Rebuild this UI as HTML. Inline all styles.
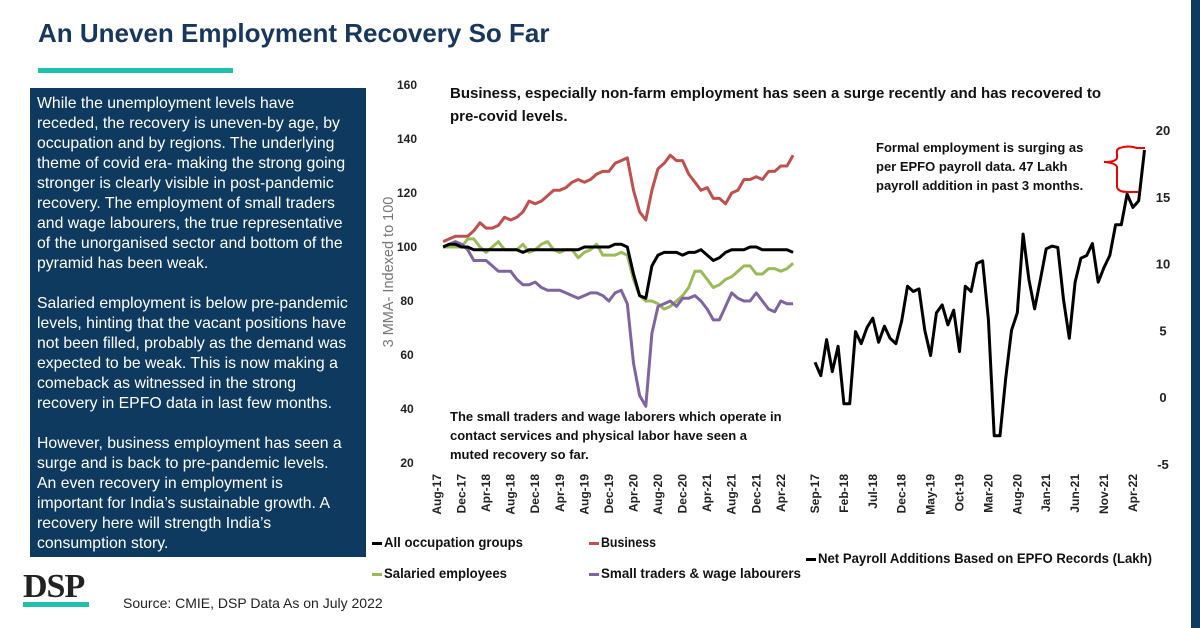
<!DOCTYPE html>
<html><head><meta charset="utf-8">
<style>
body{margin:0;background:#fff;}
#wrap{position:relative;width:1200px;height:628px;overflow:hidden;background:#fff;font-family:"Liberation Sans",sans-serif;}
#title{position:absolute;left:38px;top:18px;font-size:26px;font-weight:bold;color:#17375e;}
#panel{position:absolute;left:30px;top:88px;width:336px;height:469px;background:#0f3a5f;color:#fff;font-size:15.8px;line-height:20px;white-space:nowrap;overflow:hidden;}
#panel div{position:absolute;left:7px;}
svg text{font-family:"Liberation Sans",sans-serif;}
</style></head>
<body>
<div id="wrap">
<div id="title">An Uneven Employment Recovery So Far</div>
<div style="position:absolute;left:38px;top:68px;width:195px;height:5px;background:#1fbfae"></div>
<div id="panel">
<div style="top:6px">While the unemployment levels have<br>receded, the recovery is uneven-by age, by<br>occupation and by regions. The underlying<br>theme of covid era- making the strong going<br>stronger is clearly visible in post-pandemic<br>recovery. The employment of small traders<br>and wage labourers, the true representative<br>of the unorganised sector and bottom of the<br>pyramid has been weak.</div>
<div style="top:206px">Salaried employment is below pre-pandemic<br>levels, hinting that the vacant positions have<br>not been filled, probably as the demand was<br>expected to be weak. This is now making a<br>comeback as witnessed in the strong<br>recovery in EPFO data in last few months.</div>
<div style="top:346px">However, business employment has seen a<br>surge and is back to pre-pandemic levels.<br>An even recovery in employment is<br>important for India’s sustainable growth. A<br>recovery here will strength India’s<br>consumption story.</div>
</div>
<div style="position:absolute;left:23px;top:568px;font-family:'Liberation Serif',serif;font-weight:bold;font-size:34px;color:#222;letter-spacing:-1px">DSP</div>
<div style="position:absolute;left:23px;top:602px;width:66px;height:5px;background:#1fbfae"></div>
<div style="position:absolute;left:123px;top:595px;font-size:14px;color:#222">Source: CMIE, DSP Data As on July 2022</div>
<div style="position:absolute;left:1191px;top:0;width:9px;height:628px;background:#0f3a5f"></div>
<svg id="chart" width="1200" height="628" style="position:absolute;left:0;top:0"></svg>
</div>
<script>
const leftTicks=[20,40,60,80,100,120,140,160];
const leftXLabels=["Aug-17","Dec-17","Apr-18","Aug-18","Dec-18","Apr-19","Aug-19","Dec-19","Apr-20","Aug-20","Dec-20","Apr-21","Aug-21","Dec-21","Apr-22"];
const allOcc=[100,101,101,100,100,99,99,99,99,99,99,99,99,98,99,99,99,99,99,99,99,99,99,100,100,100,100,100,101,101,100,90,82,81,93,97,98,98,98,97,98,98,99,97,95,96,98,99,99,99,100,100,99,99,99,99,99,98];
const business=[102,103,104,104,104,106,109,107,107,108,111,110,111,113,117,116,117,119,121,121,122,124,125,124,125,127,128,128,131,132,133,121,113,110,121,129,131,134,132,132,127,124,121,122,118,118,116,120,121,125,125,126,125,128,128,130,130,134];
const salaried=[100,100,100,100,103,103,100,98,100,102,99,99,99,101,98,99,101,102,99,98,99,99,96,98,99,101,97,97,97,98,97,88,82,80,80,79,77,78,80,82,85,91,91,88,85,86,88,89,91,93,93,90,90,92,92,91,92,94];
const smallTraders=[100,101,102,101,99,95,95,95,93,91,91,91,88,86,86,87,85,84,84,84,83,82,81,82,83,83,82,80,83,84,79,57,45,41,68,78,79,80,78,81,81,82,80,77,73,73,78,83,81,80,80,83,80,77,76,80,79,79];
const rightTicks=[-5,0,5,10,15,20];
const rightXLabels=["Sep-17","Feb-18","Jul-18","Dec-18","May-19","Oct-19","Mar-20","Aug-20","Jan-21","Jun-21","Nov-21","Apr-22"];
const payroll=[2.6,1.6,4.3,1.9,3.8,-0.5,-0.5,4.9,4.0,5.2,5.9,4.1,5.3,4.4,4.0,5.7,8.3,7.9,8.1,5.0,3.1,6.3,6.9,5.4,6.5,3.4,8.3,7.9,10.0,10.2,5.8,-2.9,-2.9,1.4,5.0,6.3,12.2,8.8,6.6,8.8,11.1,11.3,11.2,7.3,4.4,8.6,10.4,10.6,11.5,8.6,9.7,10.6,12.9,12.9,15.2,14.2,14.7,18.5];

const svg=document.getElementById('chart');
const NS='http://www.w3.org/2000/svg';
function mk(tag,attrs,parent){const e=document.createElementNS(NS,tag);for(const k in attrs)e.setAttribute(k,attrs[k]);(parent||svg).appendChild(e);return e;}
function txt(s,attrs){const e=mk('text',attrs);e.textContent=s;return e;}
const ly=v=>247-(v-100)*2.7;
const lx=i=>437+i*6.14;
const rY=v=>397-v*13.35;
const rX=i=>815+i*5.78;

leftTicks.forEach(t=>{
  const e=txt(String(t),{x:407,y:ly(t)+4,'text-anchor':'middle','font-size':12,'font-weight':'bold',fill:'#222'});
  
  
});
leftXLabels.forEach((l,k)=>{
  const x=lx(k*4);
  const e=txt(l,{x:0,y:0,transform:`translate(${x+4},${474}) rotate(-90)`,'text-anchor':'end','font-size':12,'font-weight':'bold',fill:'#222'});
  
  
});
const yt=txt('3 MMA- Indexed to 100',{x:0,y:0,transform:'translate(393,272) rotate(-90)','text-anchor':'middle','font-size':14.5,fill:'#777'});



function line(arr,xf,yf,off,color,name){
  const d=arr.map((v,i)=>(i?'L':'M')+xf(i+off).toFixed(1)+','+yf(v).toFixed(1)).join(' ');
  const p=mk('path',{d,fill:'none',stroke:color,'stroke-width':3,'stroke-linejoin':'round'});
  
  
}
line(business,lx,ly,1,'#c0504d','business-line');
line(salaried,lx,ly,1,'#9bbb59','salaried-line');
line(smallTraders,lx,ly,1,'#8064a2','small-traders-line');
line(allOcc,lx,ly,1,'#000','all-occupation-line');

rightTicks.forEach(t=>{
  const e=txt(String(t),{x:1163,y:rY(t)+5,'text-anchor':'middle','font-size':13,'font-weight':'bold',fill:'#222'});
  
  
});
rightXLabels.forEach((l,k)=>{
  const x=rX(k*5);
  const e=txt(l,{x:0,y:0,transform:`translate(${x+4},${474}) rotate(-90)`,'text-anchor':'end','font-size':12,'font-weight':'bold',fill:'#222'});
  
  
});
line(payroll,rX,rY,0,'#000','payroll-line');

const br=mk('path',{d:'M1120,148 Q1128,145 1137,148 L1145,148 M1120,148 Q1116,149 1117,154 L1117,158 Q1116,162 1104,162 Q1116,163 1117,167 L1117,187 Q1118,192 1128,192 L1138,192',fill:'none',stroke:'#e00','stroke-width':2});



function block(lines,x,y0,dy,size,name){
  lines.forEach((s,i)=>{
    const e=txt(s,{x,y:y0+i*dy,'font-size':size,'font-weight':'bold',fill:'#111'});
    
    
  });
}
block(['Business, especially non-farm employment has seen a surge recently and has recovered to','pre-covid levels.'],450,98,23,15,'chart-headline');
block(['The small traders and wage laborers which operate in','contact services and physical labor have seen a','muted recovery so far.'],450,421,19,13,'small-traders-note');
block(['Formal employment is surging as','per EPFO payroll data. 47 Lakh','payroll addition in past 3 months.'],876,152,19,13,'epfo-note');

function leg(x,y,color,label,w,name){
  mk('rect',{x,y:y-5,width:10,height:3,fill:color});
  const e=txt(label,{x:x+12,y,'font-size':13.5,'font-weight':'bold',fill:'#111',textLength:w,lengthAdjust:'spacingAndGlyphs'});
  
  
}
leg(372,547,'#000','All occupation  groups',139,'legend-all-occupation');
leg(589,547,'#c0504d','Business',55,'legend-business');
leg(372,578,'#9bbb59','Salaried employees',123,'legend-salaried');
leg(589,578,'#8064a2','Small traders & wage  labourers',200,'legend-small-traders');
leg(806,563,'#000','Net Payroll Additions Based on EPFO Records (Lakh)',334,'legend-payroll');
</script>
</body></html>
